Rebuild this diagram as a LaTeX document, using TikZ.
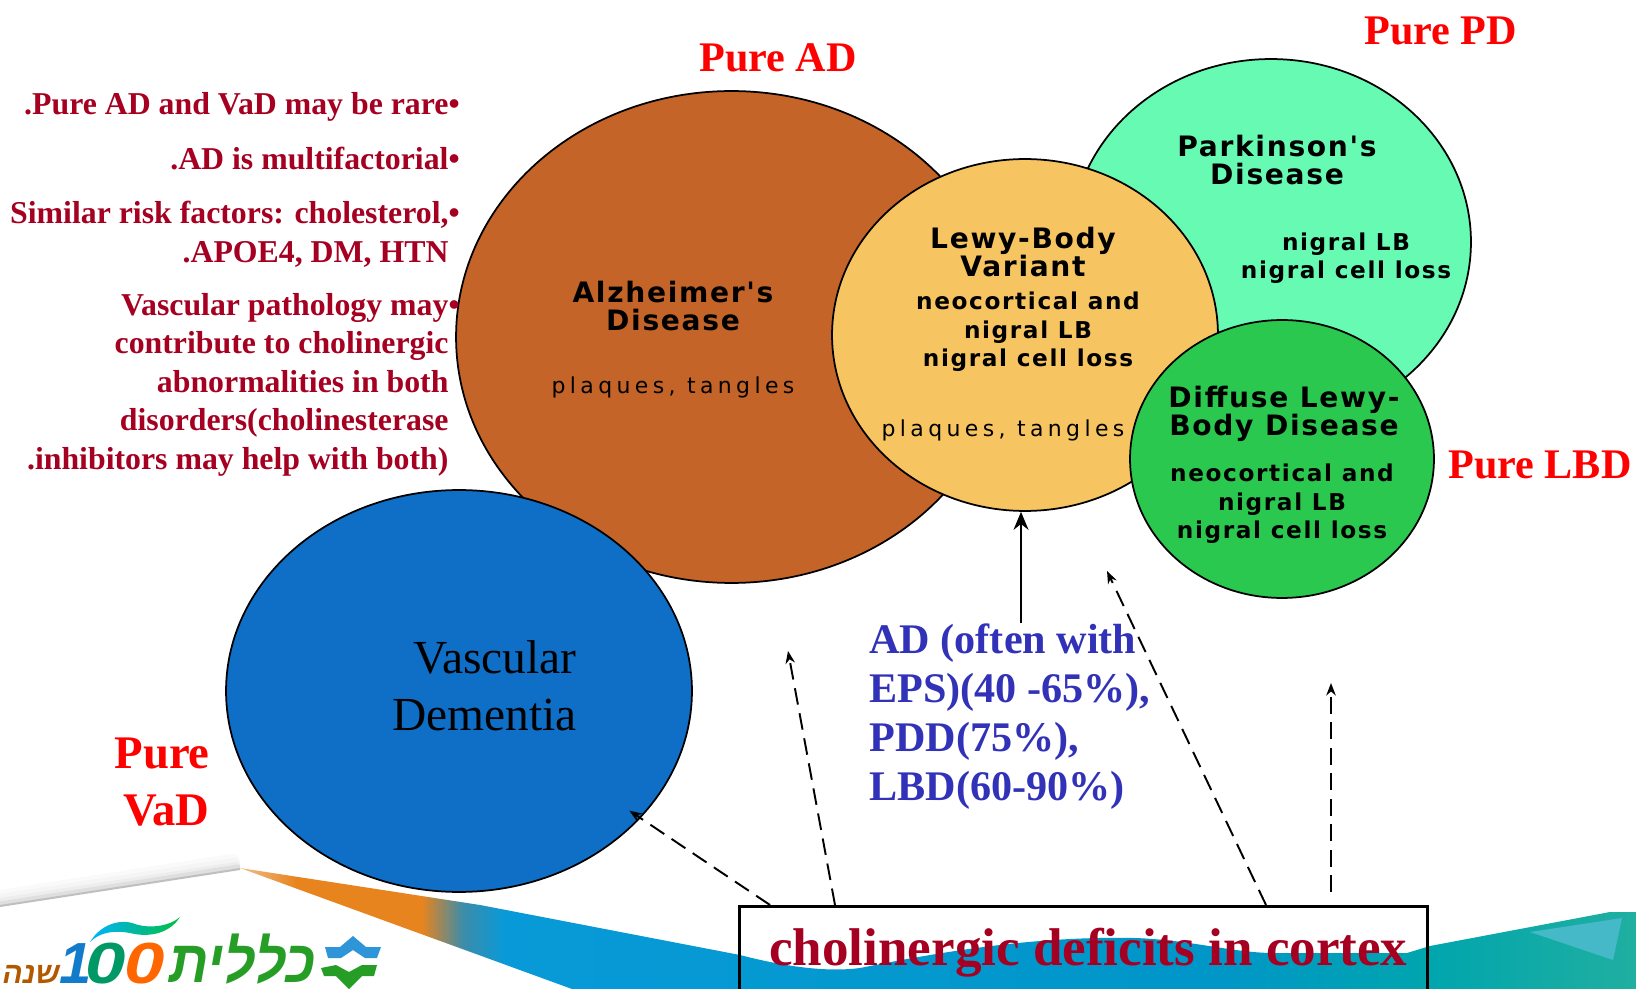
\documentclass[tikz,border=0pt]{standalone}
\usepackage{fontspec}
\usetikzlibrary{arrows.meta, positioning, shapes.geometric}
\setmainfont{Liberation Serif}
\newfontfamily\pixelfont{DejaVu Sans}
\newfontfamily\hebfont[Script=Hebrew]{Liberation Sans}
\TeXXeTstate=1

\definecolor{crimsontext}{RGB}{165,0,33}
\definecolor{ratetext}{RGB}{50,50,185}
\definecolor{adfill}{RGB}{196,100,40}
\definecolor{pdfill}{RGB}{102,250,178}
\definecolor{lbvfill}{RGB}{247,196,98}
\definecolor{dlbfill}{RGB}{43,200,79}
\definecolor{vadfill}{RGB}{15,110,198}
\definecolor{ribbonpale}{RGB}{240,190,140}
\definecolor{ribbonorange}{RGB}{232,132,30}
\definecolor{ribbonmid}{RGB}{60,140,170}
\definecolor{ribbonblue}{RGB}{8,154,216}
\definecolor{ribbondeep}{RGB}{0,150,200}
\definecolor{ribbonteal}{RGB}{0,165,174}
\definecolor{ribbongreen}{RGB}{32,175,160}
\definecolor{ribbonlight}{RGB}{70,185,200}

\pgfdeclarehorizontalshading{ribbonshade}{100bp}{
  color(0bp)=(ribbonpale); color(25bp)=(ribbonpale); color(27bp)=(ribbonorange); color(31.5bp)=(ribbonorange);
  color(33bp)=(ribbonmid); color(34.5bp)=(ribbonblue); color(60bp)=(ribbondeep);
  color(67.5bp)=(ribbonteal); color(75bp)=(ribbongreen); color(100bp)=(ribbongreen)}

\begin{document}
\begin{tikzpicture}[
    x=0.02cm, y=-0.02cm,
    disease/.style={ellipse, draw, line width=0.035cm, inner sep=0pt},
    title/.style={align=center, font=\pixelfont\bfseries\addfontfeature{LetterSpace=6}\fontsize{16}{16.2}\selectfont},
    finding/.style={align=center, font=\pixelfont\bfseries\addfontfeature{LetterSpace=7}\fontsize{13.2}{16.2}\selectfont},
    plaque/.style={font=\pixelfont\addfontfeature{LetterSpace=20}\fontsize{12.5}{14}\selectfont},
    pure/.style={anchor=base west, text=red, inner sep=0pt, font=\bfseries\fontsize{24}{28}\selectfont},
    bullet/.style={anchor=north east, align=right, inner sep=0pt, text=crimsontext, font=\bfseries\fontsize{18.1}{21.9}\selectfont},
    arrow/.style={-{Stealth[length=2.5mm, width=1.9mm]}, line width=1.1pt, dash pattern=on 9.5pt off 5pt},
    logotext/.style={inner sep=0pt, font=\hebfont\bfseries\itshape}
]

% ============ PAGE ============
\path[use as bounding box, fill=white] (0,0) rectangle (1636,989);
\clip (0,0) rectangle (1636,989);

% ============ RIBBON ============
\draw[gray!4, line width=0.32cm, line cap=round] (0,898) -- (232,862);
\draw[gray!8, line width=0.24cm, line cap=round] (0,900) -- (234,864);
\draw[gray!14, line width=0.16cm, line cap=round] (0,902) -- (236,866);
\draw[gray!25, line width=0.1cm, line cap=round] (0,904) -- (238,867);
\draw[gray!50, line width=0.04cm] (0,906) -- (240,869);
\shade[shading=ribbonshade] (240,868) -- (480,905) -- (740,955)
    .. controls (790,968) and (830,972) .. (860,968)
    .. controls (950,950) and (1040,936) .. (1135,938)
    .. controls (1190,940) and (1230,952) .. (1270,953)
    -- (1407,953) -- (1430,946) -- (1610,912) -- (1636,912) -- (1636,989) -- (572,989) -- cycle;
\fill[ribbonlight] (1530,932) -- (1622,918) -- (1613,960) -- cycle;

% ============ LOGO ============
\fill[cyan!70!blue!85] (325,947) -- (340,947) -- (353,936) -- (366,947) -- (381,947) -- (377,958)
    -- (365,958) -- (353,950) -- (341,958) -- (328,958) -- cycle;
\fill[green!55!black!85] (321,968) -- (336,965) -- (349,972) -- (362,965) -- (377,965) -- (374,976)
    -- (362,976) -- (349,989) -- (336,976) -- (324,976) -- cycle;
\node[logotext, text=green!55!black!85, anchor=base east, xscale=0.92, font=\hebfont\bfseries\itshape\fontsize{34}{34}\selectfont] (clalit) at (316,982) {\beginR כללית\endR};
\node[logotext, text=cyan!60!blue, anchor=base, font=\hebfont\bfseries\itshape\fontsize{33}{33}\selectfont] (digitone) at (76,983) {1};
\node[logotext, text=teal!80!green, anchor=base, xscale=1.25, font=\hebfont\bfseries\itshape\fontsize{33}{33}\selectfont] (digittwo) at (106,983) {0};
\node[logotext, text=orange!80!red, anchor=base, xscale=1.25, font=\hebfont\bfseries\itshape\fontsize{33}{33}\selectfont] (digitzero) at (145,983) {0};
\node[logotext, text=orange!70!black, anchor=base east, font=\hebfont\bfseries\itshape\fontsize{17}{17}\selectfont] (years) at (60,983) {\beginR שנה\endR};
\shade[left color=cyan!70!blue, right color=green!50!teal] (90,942)
    .. controls (100,925) and (120,918) .. (135,924)
    .. controls (150,929) and (170,926) .. (180,917)
    .. controls (170,933) and (150,938) .. (130,933)
    .. controls (115,930) and (100,932) .. (90,942) -- cycle;

% ============ CIRCLES ============
\node[disease, fill=adfill, minimum width=11.02cm, minimum height=9.84cm] (ad) at (731.5,337) {};
\node[disease, fill=pdfill, minimum width=8cm, minimum height=7.32cm] (pd) at (1271,242) {};
\node[disease, fill=lbvfill, minimum width=7.72cm, minimum height=7.04cm] (lbv) at (1025,335) {};
\node[disease, fill=dlbfill, minimum width=6.08cm, minimum height=5.56cm] (dlb) at (1282,459) {};
\node[disease, fill=vadfill, minimum width=9.32cm, minimum height=8.04cm] (vad) at (459,691) {};

% ============ CIRCLE TEXT ============
\node[title] (adname) at (673,306) {Alzheimer's\\Disease};
\node[plaque] (adplaque) at (673,387) {plaques, tangles};

\node[title] (pdname) at (1277,160) {Parkinson's\\Disease};
\node[finding] (pdfinding) at (1346,258) {nigral LB\\nigral cell loss};

\node[title] (lbvname) at (1023,252) {Lewy-Body\\Variant};
\node[finding] (lbvfinding) at (1028,332) {neocortical and\\nigral LB\\nigral cell loss};
\node[plaque] (lbvplaque) at (1003,430) {plaques, tangles};

\node[title] (dlbname) at (1284,414) {Diffuse Lewy-\\Body Disease};
\node[finding] (dlbfinding) at (1282,504) {neocortical and\\nigral LB\\nigral cell loss};

\node[align=right, anchor=north east, inner sep=0pt, font=\fontsize{27}{32.5}\selectfont] (vadname) at (577,640) {Vascular\\Dementia};

% ============ PURE LABELS ============
\node[pure] (puread) at (699,72) {Pure AD};
\node[pure] (purepd) at (1364,45) {Pure PD};
\node[pure] (purelbd) at (1448,479) {Pure LBD};
\node[anchor=north east, align=right, inner sep=0pt, text=red, font=\bfseries\fontsize{26.6}{32}\selectfont] (purevad) at (210,738) {Pure\\VaD};

% ============ LEFT TEXT ============
\node[bullet] (rare) at (460,92) {.Pure AD and VaD may be rare•};
\node[bullet] (multi) at (460,147) {.AD is multifactorial•};
\node[bullet] (risk) at (460,201) {Similar risk factors: cholesterol,•\\.APOE4, DM, HTN\phantom{•}};
\node[bullet] (vascular) at (460,293) {Vascular pathology may•\\contribute to cholinergic\phantom{•}\\abnormalities in both\phantom{•}\\disorders(cholinesterase\phantom{•}\\.inhibitors may help with both)\phantom{•}};

% ============ RATES ============
\node[anchor=north west, align=left, inner sep=0pt, text=ratetext, font=\bfseries\fontsize{24}{28}\selectfont] (rates) at (869,623) {AD (often with\\EPS)(40 -65\%),\\PDD(75\%),\\LBD(60-90\%)};

% ============ DEFICIT BOX ============
\node[draw, line width=0.06cm, anchor=north west, minimum width=13.76cm, minimum height=2cm] (deficit) at (738,905) {};
\node[anchor=base west, inner sep=0pt, text=crimsontext, font=\bfseries\fontsize{30.2}{34}\selectfont] (deficitname) at (769,965) {cholinergic deficits in cortex};

% ============ ARROWS ============
\coordinate (tailvad) at (770,905);
\coordinate (tailad) at (835,905);
\coordinate (tipad) at (788,651);
\coordinate (taillbv) at (1266,905);
\coordinate (tiplbv) at (1107,571);
\coordinate (taildlb) at (1331,892);
\coordinate (tipdlb) at (1331,683);
\coordinate (tailrate) at (1021,623);

\draw[arrow, shorten >=-0.27cm] (tailvad) -- (vad.-35);
\draw[arrow] (tailad) -- (tipad);
\draw[arrow] (taillbv) -- (tiplbv);
\draw[arrow] (taildlb) -- (tipdlb);
\draw[-{Stealth[length=3.6mm, width=3mm]}, line width=0.9pt] (tailrate) -- (tailrate |- lbv.south);

\end{tikzpicture}
\end{document}
